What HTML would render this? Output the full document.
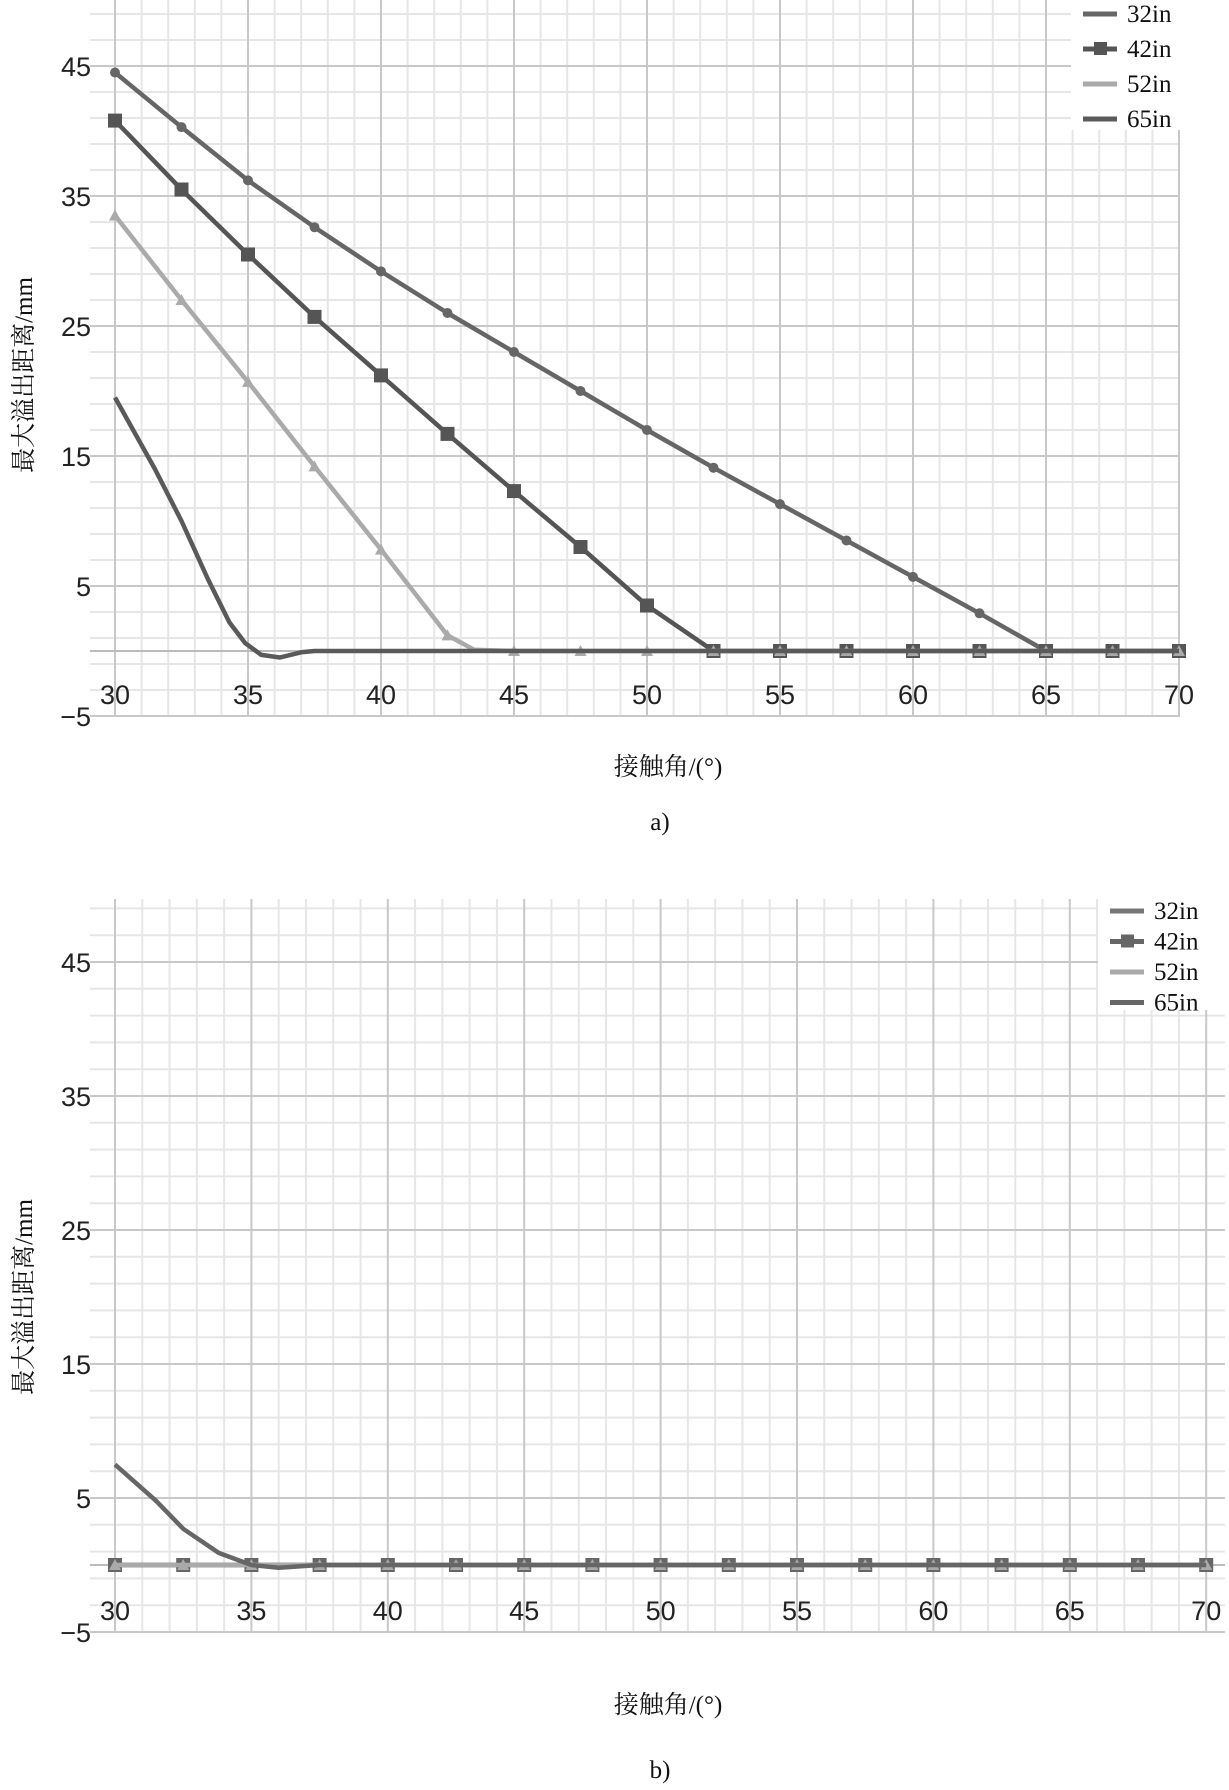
<!DOCTYPE html>
<html><head><meta charset="utf-8"><style>
html,body{margin:0;padding:0;background:#fff;}
svg{display:block}
.t{font-family:"Liberation Sans",sans-serif;font-size:27px;fill:#222}
.c{font-family:"Liberation Serif","Noto Serif CJK SC",serif;font-size:25px;fill:#111}
</style></head><body>
<svg id="s" width="1229" height="1790" viewBox="0 0 1229 1790" xmlns="http://www.w3.org/2000/svg"></svg>
<script>
const s=document.getElementById('s');let h='';
function chart(o){
 const X=d=>o.x0+o.kx*(d-30), Y=v=>o.y0-o.ky*v;
 const top=o.top, bot=Y(-5), L=X(30), R=o.right;
 for(let d=30;d<=70;d+=1){if(d%5)h+=`<line x1="${X(d)}" y1="${top}" x2="${X(d)}" y2="${bot}" stroke="#e6e6e6" stroke-width="2"/>`;}
 for(let v=-5;v<=50;v+=2){if(v%5)h+=`<line x1="${L-25}" y1="${Y(v)}" x2="${R}" y2="${Y(v)}" stroke="#e6e6e6" stroke-width="2"/>`;}
 for(let d=30;d<=70;d+=5)h+=`<line x1="${X(d)}" y1="${top}" x2="${X(d)}" y2="${bot}" stroke="#c8c8c8" stroke-width="2"/>`;
 for(let v=-5;v<=45;v+=10)h+=`<line x1="${L-25}" y1="${Y(v)}" x2="${R}" y2="${Y(v)}" stroke="#c8c8c8" stroke-width="2"/>`;
 h+=`<line x1="${L-25}" y1="${Y(0)}" x2="${R}" y2="${Y(0)}" stroke="#bbb" stroke-width="2"/>`;
 h+=`<rect x="${o.lx-12}" y="${top}" width="${1229-o.lx+12}" height="${o.lh-top}" fill="#fff"/>`;
 for(let v=-5;v<=45;v+=10)h+=`<text class="t" x="${L-24}" y="${Y(v)+10}" text-anchor="end">${v<0?'\u22125':v}</text>`;
 for(let d=30;d<=70;d+=5)h+=`<text class="t" x="${X(d)}" y="${Y(-5)-12}" text-anchor="middle">${d}</text>`;
 for(const sr of o.series){
  let p=sr.pts.map(q=>X(q[0]).toFixed(1)+','+Y(q[1]).toFixed(1)).join(' ');
  h+=`<polyline points="${p}" fill="none" stroke="${sr.c}" stroke-width="4.5" stroke-linejoin="round"/>`;
  for(const q of sr.pts){if(q[0]%2.5)continue;const x=X(q[0]),y=Y(q[1]);
   if(sr.m=='s')h+=`<rect x="${x-7}" y="${y-7}" width="14" height="14" fill="${sr.c}"/>`;
   else if(sr.m=='d')h+=`<circle cx="${x}" cy="${y}" r="5" fill="${sr.c}"/>`;
   else if(sr.m=='t')h+=`<path d="M${x-6} ${y+5}L${x} ${y-6}L${x+6} ${y+5}Z" fill="${sr.c}"/>`;}
 }
 const names=['32in','42in','52in','65in'];
 o.series.forEach((sr,i)=>{const y=o.ly+i*o.ls;
  h+=`<line x1="${o.lx}" y1="${y-8}" x2="${o.lx+34}" y2="${y-8}" stroke="${sr.c}" stroke-width="5"/>`;
  if(sr.m=='s')h+=`<rect x="${o.lx+11}" y="${y-15}" width="13" height="13" fill="${sr.c}"/>`;
  h+=`<text class="c" x="${o.lx+44}" y="${y}">${names[i]}</text>`;});
 h+=`<text class="c" x="${o.xt}" y="${o.xty}" text-anchor="middle">接触角/(°)</text>`;
 h+=`<text class="c" x="0" y="0" text-anchor="middle" transform="translate(32,${o.yty}) rotate(-90)">最大溢出距离/mm</text>`;
 h+=`<text class="c" x="${o.xt-8}" y="${o.lab}" text-anchor="middle">${o.lb}</text>`;
}
const zeros=a=>{let r=[];for(let d=a;d<=70;d+=2.5)r.push([d,0]);return r;};
chart({x0:115,kx:26.6,y0:651,ky:13.0,top:0,right:1180,lx:1083,ly:22,ls:35,lh:130,xt:668,xty:775,yty:375,lab:830,lb:'a)',
 series:[
 {c:'#666',m:'d',pts:[[30,44.5],[32.5,40.3],[35,36.2],[37.5,32.6],[40,29.2],[42.5,26],[45,23],[47.5,20],[50,17],[52.5,14.1],[55,11.3],[57.5,8.5],[60,5.7],[62.5,2.9],...zeros(65)]},
 {c:'#555',m:'s',pts:[[30,40.8],[32.5,35.5],[35,30.5],[37.5,25.7],[40,21.2],[42.5,16.7],[45,12.3],[47.5,8],[50,3.5],...zeros(52.5)]},
 {c:'#aaa',m:'t',pts:[[30,33.5],[32.5,27],[35,20.7],[37.5,14.2],[40,7.8],[42.5,1.2],[43.5,0.1],...zeros(45)]},
 {c:'#5a5a5a',m:'n',pts:[[30,19.5],[31.5,14],[32.5,10],[33.5,5.5],[34.3,2.2],[34.9,0.6],[35.5,-0.3],[36.2,-0.5],[37,-0.1],[37.5,0],...zeros(40)]}]});
chart({x0:115,kx:27.28,y0:1565,ky:13.4,top:899,right:1225,lx:1110,ly:919,ls:30.5,lh:1010,xt:668,xty:1713,yty:1297,lab:1778,lb:'b)',
 series:[
 {c:'#777',m:'d',pts:zeros(30)},
 {c:'#666',m:'s',pts:zeros(30)},
 {c:'#aaa',m:'t',pts:zeros(30)},
 {c:'#666',m:'n',pts:[[30,7.5],[31.5,4.8],[32.5,2.7],[33.8,0.9],[35,0],[36,-0.2],[37.5,0],...zeros(40)]}]});
s.innerHTML=h;
</script>
</body></html>
